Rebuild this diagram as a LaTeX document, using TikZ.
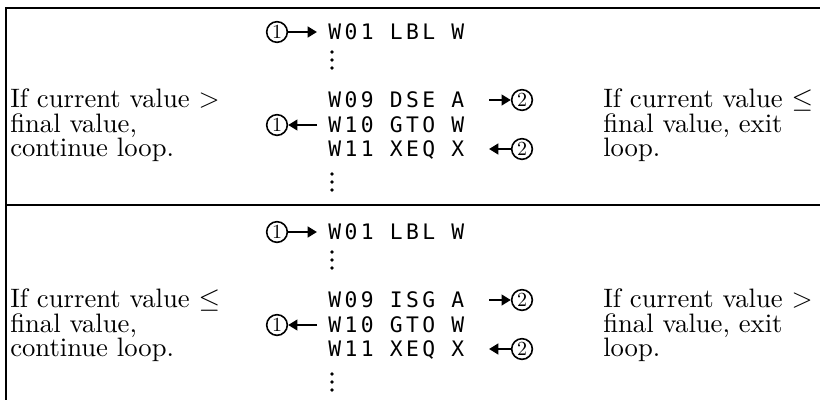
\documentclass[tikz,border=0pt]{standalone}
\usepackage{fontspec}
\newfontfamily\cmten{lmroman10-regular.otf}
\newfontfamily\hpmono[LetterSpace=16]{DejaVu Sans Mono}
\usetikzlibrary{arrows.meta}
\begin{document}
\begin{tikzpicture}[x=0.75pt,y=-0.75pt,
  txt/.style={anchor=base west,inner sep=0pt,font=\cmten\fontsize{20}{24}\selectfont},
  code/.style={anchor=base west,inner sep=0pt,font=\hpmono\fontsize{16}{18}\selectfont},
  num/.style={circle,draw,line width=1.2pt,minimum size=15.5pt,inner sep=0pt,font=\cmten\fontsize{15}{15}\selectfont},
  arr/.style={line width=2.2pt,-{Triangle[length=7pt,width=8pt]}},
  frame/.style={line width=1.6pt}]
\useasboundingbox (0,0) rectangle (820,400);
% frame
\coordinate (tl) at (6,8);
\coordinate (tr) at (820,8);
\coordinate (ml) at (6,205);
\coordinate (mr) at (820,205);
\coordinate (bl) at (6,400);
\draw[frame] (tr) -- (tl) -- (bl);
\draw[frame] (ml) -- (mr);
\foreach \p/\off/\lrel/\rrel/\op in {a/0/{$>$}/{$\leq$}/DSE, b/200/{$\leq$}/{$>$}/ISG}{
  % code column
  \node[code] (w01\p) at (328,\off+39) {W01 LBL W};
  \node[code] (w09\p) at (328,\off+107) {W09 \op\ A};
  \node[code] (w10\p) at (328,\off+132) {W10 GTO W};
  \node[code] (w11\p) at (328,\off+156) {W11 XEQ X};
  \fill (332,\off+52) circle (1.4pt) (332,\off+60) circle (1.4pt) (332,\off+68) circle (1.4pt);
  \fill (332,\off+174) circle (1.4pt) (332,\off+182) circle (1.4pt) (332,\off+190) circle (1.4pt);
  % circled numbers
  \node[num] (c1in\p) at (277,\off+32) {1};
  \node[num] (c1out\p) at (277,\off+125) {1};
  \node[num] (c2out\p) at (522,\off+100) {2};
  \node[num] (c2in\p) at (522,\off+149) {2};
  \draw[arr] (c1in\p.east) -- (317,\off+32);
  \draw[arr] (317,\off+125) -- (c1out\p.east);
  \draw[arr] (489,\off+100) -- (c2out\p.west);
  \draw[arr] (c2in\p.west) -- (489,\off+149);
  % left texts
  \node[txt] (l1\p) at (10,\off+107) {If current value \lrel};
  \node[txt] (l2\p) at (10,\off+132) {final value,};
  \node[txt] (l3\p) at (10,\off+156) {continue loop.};
  % right texts
  \node[txt] (r1\p) at (603,\off+107) {If current value \rrel};
  \node[txt] (r2\p) at (603,\off+132) {final value, exit};
  \node[txt] (r3\p) at (603,\off+156) {loop.};
}
\end{tikzpicture}
\end{document}
